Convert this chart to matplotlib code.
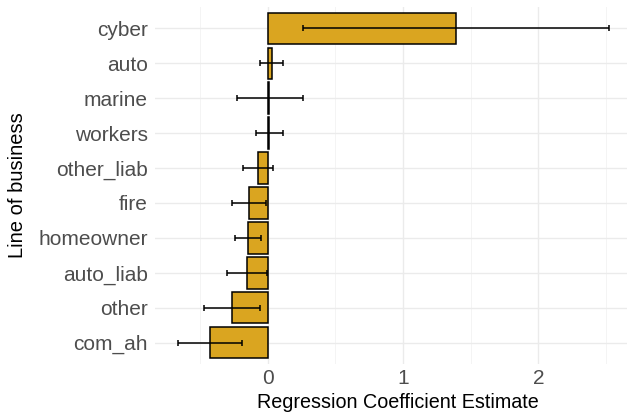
import numpy as np
import matplotlib.pyplot as plt

# === Data (top to bottom) ===
lines = ["cyber", "auto", "marine", "workers", "other_liab",
         "fire", "homeowner", "auto_liab", "other", "com_ah"]
estimate = [1.392, 0.03, 0.008, 0.007, -0.072,
            -0.14, -0.148, -0.155, -0.264, -0.427]
ci_low = [0.258, -0.055, -0.227, -0.086, -0.18,
          -0.266, -0.24, -0.30, -0.469, -0.66]
ci_high = [2.52, 0.11, 0.258, 0.115, 0.042,
           -0.013, -0.047, -0.005, -0.057, -0.192]

plt.rcParams['font.family'] = ['Liberation Sans', 'DejaVu Sans']

W, H = 627, 413
fig = plt.figure(figsize=(W / 100, H / 100), dpi=100)
left, right, top, bottom = 155, 627, 7.4, 363.6
ax = fig.add_axes([left / W, 1 - bottom / H, (right - left) / W, (bottom - top) / H])

n = len(lines)
ypos = np.arange(n)[::-1] + 1
est = np.array(estimate)
err = np.array([est - np.array(ci_low), np.array(ci_high) - est])

ax.barh(ypos, est, height=0.9, color="#DAA520", edgecolor="black", linewidth=1.1, zorder=2)
ax.errorbar(est, ypos, xerr=err, fmt="none", ecolor="black", elinewidth=1.1,
            capsize=2.5, capthick=1.1, zorder=3)

x0 = (left - 267.7) / 135.3
ax.set_xlim(x0, x0 + (right - left) / 135.3)
ax.set_ylim(0.4, n + 0.6)
ax.set_yticks(ypos)
ax.set_yticklabels(lines)
ax.set_xticks([0, 1, 2])
ax.set_xticks([-0.5, 0.5, 1.5, 2.5], minor=True)

ax.grid(True, which="major", color="#EBEBEB", linewidth=1.0, zorder=0)
ax.grid(True, which="minor", axis="x", color="#F2F2F2", linewidth=0.6, zorder=0)
ax.set_axisbelow(True)
for s in ax.spines.values():
    s.set_visible(False)
ax.tick_params(which="both", length=0, labelsize=15, colors="#4D4D4D")
ax.tick_params(axis="y", pad=5)
ax.tick_params(axis="x", pad=4)

ax.set_xlabel("Regression Coefficient Estimate", fontsize=14.2, color="black", va="center")
ax.xaxis.set_label_coords((398 - left) / (right - left), (bottom - 403) / (bottom - top))
ax.set_ylabel("Line of business", fontsize=14.5, color="black", va="center")
ax.yaxis.set_label_coords((18 - left) / (right - left), 0.5)

fig.savefig("out.png", dpi=100)
